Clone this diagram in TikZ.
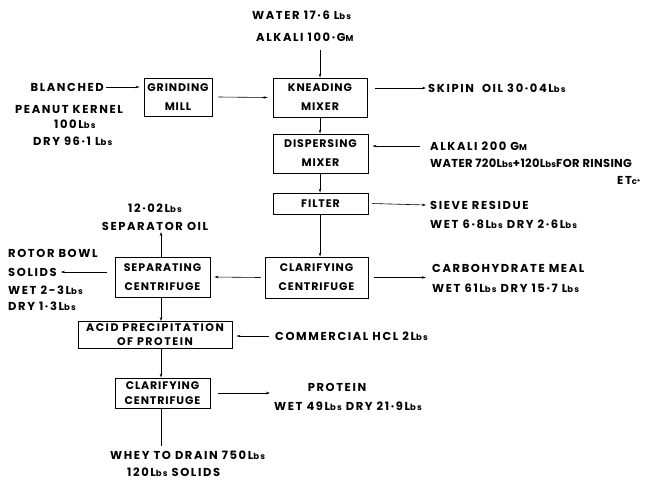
\documentclass[tikz,border=0pt]{standalone}
\usepackage{fontspec}
\setmainfont{Poppins}
\usetikzlibrary{arrows.meta}
\newcommand{\lb}{L{\fontsize{8.5}{9}\selectfont bs}}
\newcommand{\gm}{G{\fontsize{8.5}{9}\selectfont M}}
\newcommand{\lblfont}{\fontsize{11.5}{13}\selectfont\bfseries\addfontfeatures{LetterSpace=14}}
\newcommand{\boxfont}{\fontsize{11}{19}\selectfont\bfseries\addfontfeatures{LetterSpace=8}}
\begin{document}
\begin{tikzpicture}[x=1pt,y=-1pt,
  box/.style={draw,line width=0.9pt,inner sep=0pt,font=\boxfont,align=center},
  lbl/.style={inner sep=0pt,font=\lblfont},
  arr/.style={line width=0.6pt,-{Stealth[length=4pt,width=2.5pt]}}]
\useasboundingbox (0,0) rectangle (652,483);
% boxes
\node[box,minimum width=68pt,minimum height=38pt] (grind) at (178,97) {GRINDING\\MILL};
\node[box,minimum width=94pt,minimum height=39pt] (knead) at (320,97.5) {KNEADING\\MIXER};
\node[box,minimum width=95pt,minimum height=39pt] (disp) at (320.5,153.5) {DISPERSING\\MIXER};
\node[box,minimum width=95pt,minimum height=21pt] (filt) at (320.5,203.5) {FILTER};
\node[box,minimum width=103pt,minimum height=41pt] (clar) at (316.5,277.5) {CLARIFYING\\CENTRIFUGE};
\node[box,minimum width=95pt,minimum height=40pt] (sep) at (162.5,277) {SEPARATING\\CENTRIFUGE};
\node[box,minimum width=154pt,minimum height=27pt,font=\boxfont\addfontfeatures{LetterSpace=14}\fontsize{11}{14}\selectfont] (acid) at (155,335) {ACID PRECIPITATION\\OF PROTEIN};
\node[box,minimum width=95pt,minimum height=30pt,font=\boxfont\fontsize{11}{15}\selectfont] (clar2) at (162.5,393) {CLARIFYING\\CENTRIFUGE};
% labels
\node[lbl,anchor=west] (water) at (252,15) {WATER 17·6 \lb};
\node[lbl,anchor=west] (alk) at (256,37) {ALKALI 100·\gm};
\coordinate (alkb) at (320,50);
\node[lbl,anchor=east] (blanch) at (104,87) {BLANCHED};
\node[lbl,anchor=west] (pk) at (15,109) {PEANUT KERNEL};
\node[lbl,anchor=west] (pk2) at (54,124) {100\lb};
\node[lbl,anchor=west] (pk3) at (33,141) {DRY 96·1 \lb};
\node[lbl,anchor=west] (skip) at (428,88) {SKIPIN\ \ OIL 30·04\lb};
\node[lbl,anchor=west] (alk2) at (430,146) {ALKALI 200 \gm};
\node[lbl,anchor=west,font=\lblfont\addfontfeatures{LetterSpace=3}] (wat2) at (430,163) {WATER 720\lb+120\lb FOR RINSING};
\node[lbl,anchor=west] (etc) at (617,180) {ET{\fontsize{8.5}{9}\selectfont c}·};
\node[lbl,anchor=west] (sieve) at (430,205) {SIEVE RESIDUE};
\node[lbl,anchor=west] (sieve2) at (430,224) {WET 6·8\lb\ DRY 2·6\lb};
\node[lbl,anchor=west] (carb) at (432,268) {CARBOHYDRATE MEAL};
\node[lbl,anchor=west] (carb2) at (432,288) {WET 61\lb\ DRY 15·7 \lb};
\node[lbl] (sepoil1) at (155,208) {12·02\lb};
\node[lbl] (sepoil) at (155,226) {SEPARATOR OIL};
\node[lbl,anchor=west] (rotor) at (8,253) {ROTOR BOWL};
\node[lbl,anchor=west] (solids) at (8,272) {SOLIDS};
\node[lbl,anchor=west] (rot3) at (8,290) {WET 2-3\lb};
\node[lbl,anchor=west] (rot4) at (8,306) {DRY 1·3\lb};
\node[lbl,anchor=west] (hcl) at (275,336) {COMMERCIAL HCL 2\lb};
\node[lbl] (prot) at (337,387) {PROTEIN};
\node[lbl,anchor=west] (prot2) at (274,406) {WET 49\lb\ DRY 21·9\lb};
\node[lbl,anchor=west] (whey) at (110,455) {WHEY TO DRAIN 750\lb};
\node[lbl,anchor=west] (whey2) at (127,472) {120\lb\ SOLIDS};
% connectors
\coordinate (col) at (320,0);
\coordinate (col2) at (161,0);
\draw[arr] (alkb) -- (knead.north -| alkb);
\draw[arr] ([xshift=2pt]blanch.east) -- ([xshift=-4pt]grind.west |- blanch.east);
\draw[arr] ([xshift=6pt]grind.east) -- ([xshift=-5pt]knead.west);
\draw[arr] ([xshift=8pt]knead.east |- skip.west) -- ([xshift=-2pt]skip.west);
\draw[arr] (knead.south -| col) -- (disp.north -| col);
\draw[arr] ([xshift=-10pt]alk2.west) -- ([xshift=4pt]disp.east |- alk2.west);
\draw[arr] (disp.south -| col) -- (filt.north -| col);
\draw[arr] ([xshift=4pt]filt.east) -- ([xshift=-4pt]sieve.west);
\draw[arr] (filt.south -| col) -- (clar.north -| col);
\draw[arr] ([xshift=6pt]clar.east) -- ([xshift=-6pt]clar.east -| carb.west);
\draw[arr] ([xshift=-4pt]clar.west) -- ([xshift=4pt]sep.east);
\draw[arr] (sep.north -| col2) -- (161,232);
\draw[arr] ([xshift=-8pt]sep.west |- solids.east) -- ([xshift=4pt]solids.east);
\draw[arr] (sep.south -| col2) -- (acid.north -| col2);
\draw[arr] ([xshift=-6pt]hcl.west) -- ([xshift=4pt]acid.east |- hcl.west);
\draw[arr] (acid.south -| col2) -- (clar2.north -| col2);
\draw[arr] ([xshift=8pt]clar2.east) -- (270,393);
\draw[line width=0.6pt] (clar2.south -| col2) -- (161,446);
\end{tikzpicture}
\end{document}
